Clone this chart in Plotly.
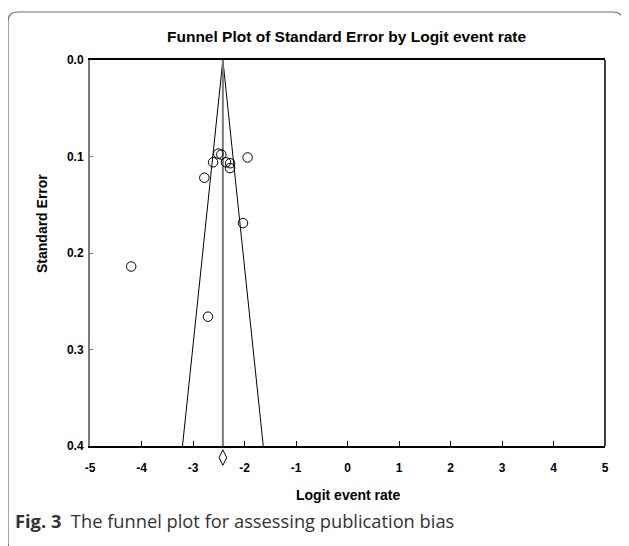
import plotly.graph_objects as go

# Study data: logit event rate and standard error
logit_rate = [-2.78, -2.61, -2.51, -2.45, -2.36, -2.28, -2.28, -1.94, -2.03, -4.20, -2.71]
std_error = [0.122, 0.106, 0.097, 0.098, 0.106, 0.107, 0.112, 0.101, 0.169, 0.214, 0.266]

pooled_logit = -2.42
pooled_marker_se = 0.412
se_max = 0.4
z = 1.96

x_ticks = [-5, -4, -3, -2, -1, 0, 1, 2, 3, 4, 5]
y_ticks = [0.0, 0.1, 0.2, 0.3, 0.4]

# Reference image geometry (pixels); page body has an 8px margin
W, H = 629, 546
OFF = 8
L, R, T = 90, 605, 60
B_AXIS = 446          # pixel of main x axis
B = 472               # bottom of plotting region (includes diamond strip)
SE_PER_PX = se_max / (B_AXIS - T)

def px(x):
    return (x - L) / (R - L)

def py(y):
    return (B - y) / (B - T)

FONT = "Arial, Liberation Sans, sans-serif"
main_domain = [py(B_AXIS), 1]
strip_domain = [0, py(B_AXIS)]

fig = go.Figure()

# Funnel lines
fig.add_trace(go.Scatter(
    x=[pooled_logit - z * se_max, pooled_logit, pooled_logit + z * se_max],
    y=[se_max, 0, se_max],
    mode="lines", line=dict(color="black", width=1),
    hoverinfo="skip", showlegend=False))

# Pooled estimate vertical line
fig.add_trace(go.Scatter(
    x=[pooled_logit, pooled_logit], y=[0, se_max],
    mode="lines", line=dict(color="#7a7a7a", width=2),
    hoverinfo="skip", showlegend=False))

# Studies (open circles)
fig.add_trace(go.Scatter(
    x=logit_rate, y=std_error, mode="markers",
    marker=dict(symbol="circle-open", size=9.5, color="black", line=dict(width=1, color="black")),
    showlegend=False))

# Pooled diamond (in the strip below the x axis, same SE scale)
fig.add_trace(go.Scatter(
    x=[pooled_logit], y=[pooled_marker_se], mode="markers", xaxis="x2", yaxis="y2",
    marker=dict(symbol="diamond-tall-open", size=11, color="black", line=dict(width=1, color="black")),
    cliponaxis=False, showlegend=False))

fig.update_layout(
    xaxis=dict(
        range=[-5, 5], tickvals=x_ticks, ticktext=[str(v) for v in x_ticks],
        showline=True, linecolor="black", linewidth=1.5, mirror=True,
        ticks="inside", ticklen=5, tickcolor="black", tickwidth=1,
        showgrid=False, zeroline=False, anchor="y",
        tickfont=dict(family=FONT, size=12, color="black", weight="bold"),
        ticklabelstandoff=10),
    yaxis=dict(
        range=[se_max, 0], tickvals=y_ticks, ticktext=[f"{v:.1f}" for v in y_ticks],
        domain=main_domain,
        showline=True, linecolor="#7a7a7a", linewidth=2,
        ticks="inside", ticklen=3, tickcolor="#7a7a7a",
        showgrid=False, zeroline=False,
        tickfont=dict(family=FONT, size=12, color="black", weight="bold"),
        ticklabelstandoff=2),
    xaxis2=dict(range=[-5, 5], matches="x", anchor="y2", visible=False),
    yaxis2=dict(range=[se_max + (B - B_AXIS) * SE_PER_PX, se_max], domain=strip_domain,
                anchor="x2", visible=False),
)

# Right border of plot
shapes = [dict(type="line", xref="paper", yref="paper", x0=1, x1=1,
               y0=main_domain[0], y1=1, line=dict(color="black", width=1.5))]

# Rounded frame
fl, fr, ft, fb, rad = 8, 623, 12, 552, 10
path = (f"M {px(fl + rad)},{py(ft)} L {px(fr - rad)},{py(ft)} "
        f"Q {px(fr)},{py(ft)} {px(fr)},{py(ft + rad)} "
        f"L {px(fr)},{py(fb - rad)} Q {px(fr)},{py(fb)} {px(fr - rad)},{py(fb)} "
        f"L {px(fl + rad)},{py(fb)} Q {px(fl)},{py(fb)} {px(fl)},{py(fb - rad)} "
        f"L {px(fl)},{py(ft + rad)} Q {px(fl)},{py(ft)} {px(fl + rad)},{py(ft)} Z")
shapes.append(dict(type="path", xref="paper", yref="paper", path=path,
                   line=dict(color="#6e6e6e", width=1.2), layer="below"))

annotations = [
    dict(text="<b>Funnel Plot of Standard Error by Logit event rate</b>",
         xref="paper", yref="paper", x=px(346), y=py(36), showarrow=False,
         xanchor="center", yanchor="middle", font=dict(family=FONT, size=15.5, color="black")),
    dict(text="<b>Logit event rate</b>", xref="paper", yref="paper",
         x=px(348), y=py(495), showarrow=False, xanchor="center", yanchor="middle",
         font=dict(family=FONT, size=14, color="black")),
    dict(text="<b>Standard Error</b>", xref="paper", yref="paper",
         x=px(42), y=py(224), showarrow=False, xanchor="center", yanchor="middle",
         textangle=-90, font=dict(family=FONT, size=14, color="black")),
    dict(text="<b>Fig. 3</b>  The funnel plot for assessing publication bias",
         xref="paper", yref="paper", x=px(13), y=py(520), showarrow=False,
         xanchor="left", yanchor="middle",
         font=dict(family="Open Sans, Noto Sans, sans-serif", size=18.3, color="#333333")),
]

fig.update_layout(
    width=W - OFF, height=H - OFF,
    margin=dict(l=L - OFF, r=W - R, t=T - OFF, b=H - B, autoexpand=False),
    paper_bgcolor="white", plot_bgcolor="white",
    shapes=shapes, annotations=annotations, showlegend=False)

fig.write_html("out.html")
